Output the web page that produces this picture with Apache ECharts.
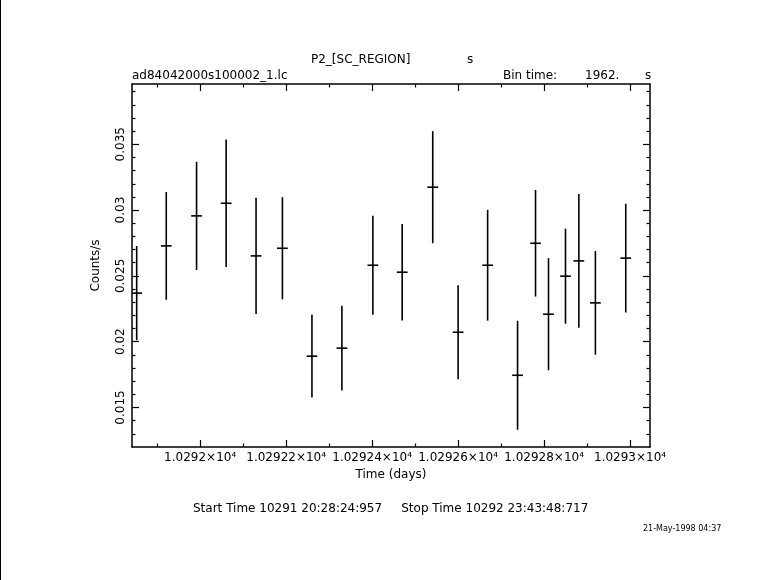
<!DOCTYPE html>
<html>
<head>
<meta charset="utf-8">
<script src="https://cdn.jsdelivr.net/npm/echarts@6/dist/echarts.min.js"></script>
<style>
html,body{margin:0;padding:0;background:#fff;}
#c{width:781px;height:580px;border-left:1px solid #000;box-sizing:border-box;}
</style>
</head>
<body>
<div id="c"></div>
<script>
// ---- data ----
const times = [10291.8523, 10291.9211, 10291.9916, 10292.0604, 10292.1300, 10292.1913, 10292.2600,
  10292.3297, 10292.4017, 10292.4699, 10292.5410, 10292.6000, 10292.6687, 10292.7383, 10292.7801,
  10292.8103, 10292.8498, 10292.8809, 10292.9194, 10292.9900];
const rates = [0.02369, 0.02728, 0.02956, 0.03052, 0.02652, 0.02710, 0.01890, 0.01951, 0.02581,
  0.02528, 0.03174, 0.02072, 0.02581, 0.01745, 0.02748, 0.02209, 0.02498, 0.02614, 0.02295, 0.02635];
const errors = [0.00358, 0.00409, 0.00411, 0.00485, 0.00441, 0.00388, 0.00314, 0.00322, 0.00376,
  0.00367, 0.00426, 0.00357, 0.00421, 0.00414, 0.00405, 0.00426, 0.00361, 0.00508, 0.00394, 0.00413];
const halfBin = 0.0125; // days
const xMajorTicks = [10292.0, 10292.2, 10292.4, 10292.6, 10292.8, 10293.0];
const xTickLabels = ['1.0292×10⁴', '1.02922×10⁴', '1.02924×10⁴', '1.02926×10⁴', '1.02928×10⁴', '1.0293×10⁴'];
const xMinorTicks = [10291.9, 10292.1, 10292.3, 10292.5, 10292.7, 10292.9];
const yMajorTicks = [0.015, 0.02, 0.025, 0.03, 0.035];
const yTickLabels = ['0.015', '0.02', '0.025', '0.03', '0.035'];
const yMinorTicks = [0.013, 0.014, 0.016, 0.017, 0.018, 0.019, 0.021, 0.022, 0.023, 0.024,
  0.026, 0.027, 0.028, 0.029, 0.031, 0.032, 0.033, 0.034, 0.036, 0.037, 0.038, 0.039];
const xMin = 10291.8414, xMax = 10293.0464;
const yMin = 0.0120, yMax = 0.03958;

const FONT = 'DejaVu Sans';
const chart = echarts.init(document.getElementById('c'), null, {renderer: 'canvas'});

function xAx(pos, ticks, len, showLine, labels) {
  return {
    type: 'value', position: pos, min: xMin, max: xMax,
    axisLine: {show: showLine, onZero: false, lineStyle: {color: '#000', width: 1.5}},
    axisTick: {show: true, inside: true, length: len, customValues: ticks, lineStyle: {color: '#000', width: 1.2}},
    axisLabel: labels ? {
      show: true, customValues: xMajorTicks, margin: 5, color: '#000', fontFamily: FONT, fontSize: 12,
      formatter: v => { const i = xMajorTicks.findIndex(t => Math.abs(t - v) < 1e-6); return i >= 0 ? xTickLabels[i] : ''; }
    } : {show: false},
    splitLine: {show: false},
    name: labels ? 'Time (days)' : '', nameLocation: 'middle', nameGap: 19,
    nameTextStyle: {color: '#000', fontFamily: FONT, fontSize: 12}
  };
}
function yAx(pos, ticks, len, showLine, labels) {
  return {
    type: 'value', position: pos, min: yMin, max: yMax,
    axisLine: {show: showLine, onZero: false, lineStyle: {color: '#000', width: 1.5}},
    axisTick: {show: true, inside: true, length: len, customValues: ticks, lineStyle: {color: '#000', width: 1.2}},
    axisLabel: labels ? {
      show: true, customValues: yMajorTicks, rotate: 90, margin: 5, color: '#000', fontFamily: FONT, fontSize: 12,
      formatter: v => { const i = yMajorTicks.findIndex(t => Math.abs(t - v) < 1e-9); return i >= 0 ? yTickLabels[i] : ''; }
    } : {show: false},
    splitLine: {show: false},
    name: labels ? 'Counts/s' : '', nameLocation: 'middle', nameGap: 30, nameRotate: 90,
    nameTextStyle: {color: '#000', fontFamily: FONT, fontSize: 12}
  };
}

const data = times.map((t, i) => [t, rates[i], errors[i]]);

const option = {
  backgroundColor: '#fff',
  animation: false,
  grid: {left: 131, right: 131, top: 84, bottom: 133, containLabel: false},
  xAxis: [
    xAx('bottom', xMajorTicks, 7, true, true),
    xAx('bottom', xMinorTicks, 3.5, false, false),
    xAx('top', xMajorTicks, 7, true, false),
    xAx('top', xMinorTicks, 3.5, false, false)
  ],
  yAxis: [
    yAx('left', yMajorTicks, 7, true, true),
    yAx('left', yMinorTicks, 3.5, false, false),
    yAx('right', yMajorTicks, 7, true, false),
    yAx('right', yMinorTicks, 3.5, false, false)
  ],
  series: [{
    type: 'custom',
    xAxisIndex: 0, yAxisIndex: 0,
    clip: true,
    data: data,
    renderItem: function (params, api) {
      const t = api.value(0), v = api.value(1), e = api.value(2);
      const top = api.coord([t, v + e]);
      const bot = api.coord([t, v - e]);
      const l = api.coord([t - halfBin, v]);
      const r = api.coord([t + halfBin, v]);
      const style = {stroke: '#000', lineWidth: 1.6};
      return {
        type: 'group',
        children: [
          {type: 'line', shape: {x1: top[0], y1: top[1], x2: bot[0], y2: bot[1]}, style: style},
          {type: 'line', shape: {x1: l[0], y1: l[1], x2: r[0], y2: r[1]}, style: style}
        ]
      };
    }
  }],
  graphic: [
    {type: 'text', left: 310, top: 54, style: {text: 'P2_[SC_REGION]', font: '12px "DejaVu Sans"', fill: '#000'}},
    {type: 'text', left: 466, top: 54, style: {text: 's', font: '12px "DejaVu Sans"', fill: '#000'}},
    {type: 'text', left: 131, top: 70, style: {text: 'ad84042000s100002_1.lc', font: '12px "DejaVu Sans"', fill: '#000'}},
    {type: 'text', left: 502, top: 70, style: {text: 'Bin time:', font: '12px "DejaVu Sans"', fill: '#000'}},
    {type: 'text', left: 584, top: 70, style: {text: '1962.', font: '12px "DejaVu Sans"', fill: '#000'}},
    {type: 'text', left: 644, top: 70, style: {text: 's', font: '12px "DejaVu Sans"', fill: '#000'}},
    {type: 'text', left: 192, top: 503, style: {text: 'Start Time 10291 20:28:24:957     Stop Time 10292 23:43:48:717', font: '12px "DejaVu Sans"', fill: '#000'}},
    {type: 'text', left: 642, top: 525, style: {text: '21-May-1998 04:37', font: '8px "DejaVu Sans"', fill: '#000'}}
  ]
};
chart.setOption(option);
</script>
</body>
</html>
